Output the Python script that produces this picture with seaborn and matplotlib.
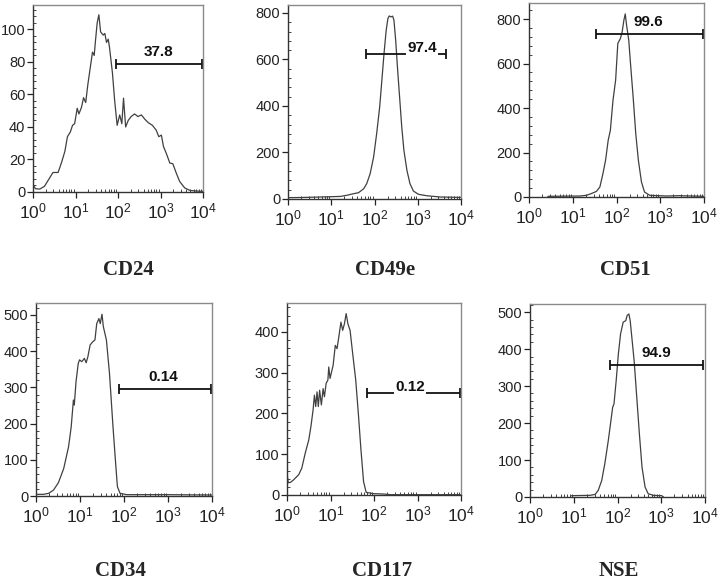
import numpy as np
import pandas as pd
import matplotlib
matplotlib.use("Agg")
import matplotlib.pyplot as plt
import matplotlib.ticker as mticker
import seaborn as sns

# ---------------- data (x in log10 fluorescence decades, y = cell counts) ----------------
markers = ["CD24", "CD49e", "CD51", "CD34", "CD117", "NSE"]

cd24_dec = [0.00, 0.06, 0.16, 0.27, 0.39, 0.47, 0.59, 0.67, 0.75, 0.81, 0.88, 0.93, 0.98, 1.04, 1.08,
            1.14, 1.19, 1.24, 1.29, 1.35, 1.40, 1.44, 1.47, 1.51, 1.55, 1.59, 1.65, 1.69, 1.73, 1.77,
            1.80, 1.87, 1.92, 1.98, 2.04, 2.09, 2.13, 2.18, 2.24, 2.31, 2.39, 2.47, 2.55, 2.63, 2.71,
            2.81, 2.90, 2.96, 3.02, 3.07, 3.14, 3.22, 3.29, 3.37, 3.45, 3.57, 3.69, 3.84, 4.00]
cd24_cnt = [4.5, 2.0, 1.8, 3.5, 8.6, 12, 12, 18, 25, 34, 37, 41, 42, 51.5, 48,
            52, 58, 55, 66, 77, 86, 84, 93, 104, 109, 98.5, 96.5, 97.5, 92, 94,
            89, 73, 56.6, 41, 47.4, 42, 57.7, 40, 44, 46.4, 48, 46.4, 47.4, 44.8, 42.7,
            41, 38, 34, 35, 28, 23.5, 17.8, 17.4, 11.7, 6.5, 2.5, 1.0, 0.6, 0.4]

cd49e_dec = [0.00, 0.44, 1.21, 1.36, 1.52, 1.63, 1.75, 1.82, 1.90, 1.98, 2.05, 2.12, 2.17, 2.22, 2.27,
             2.31, 2.34, 2.38, 2.42, 2.45, 2.49, 2.53, 2.58, 2.63, 2.68, 2.75, 2.82, 2.90, 3.02, 3.21,
             3.52, 4.00]
cd49e_cnt = [5.7, 7, 11, 16, 23, 27, 44, 66, 109, 181, 281, 396, 510, 625, 725,
             776, 787, 783, 786, 768, 682, 568, 439, 310, 209, 123, 66, 34, 20, 14,
             8.6, 7]

cd51_dec = [0.43, 1.16, 1.31, 1.42, 1.54, 1.62, 1.69, 1.75, 1.81, 1.86, 1.92, 1.98, 2.03, 2.09, 2.13,
            2.17, 2.20, 2.23, 2.28, 2.32, 2.38, 2.44, 2.50, 2.57, 2.64, 2.76, 3.14, 3.44, 4.00]
cd51_cnt = [3, 4.5, 7.5, 15, 25, 45, 105, 165, 255, 300, 435, 525, 690, 713, 743,
            796, 823, 773, 705, 600, 450, 285, 165, 68, 22.5, 7.5, 4.5, 6, 3]

cd34_dec = [0.00, 0.17, 0.29, 0.40, 0.51, 0.63, 0.74, 0.80, 0.85, 0.87, 0.91, 0.96, 0.99, 1.04, 1.10,
            1.14, 1.18, 1.23, 1.29, 1.34, 1.38, 1.43, 1.46, 1.50, 1.53, 1.60, 1.67, 1.75, 1.81, 1.85,
            1.91, 2.06, 2.97, 4.00]
cd34_cnt = [4.6, 4.6, 7.4, 16.6, 37, 76, 136, 191, 265, 251, 316, 366, 376, 371, 380,
            368, 385, 417, 426, 431, 476, 490, 476, 502, 468, 431, 339, 191, 90, 26,
            7.4, 3.7, 3.7, 2.8]

cd117_dec = [0.00, 0.01, 0.03, 0.08, 0.15, 0.27, 0.34, 0.42, 0.50, 0.55, 0.60, 0.63, 0.66, 0.69, 0.72,
             0.75, 0.79, 0.83, 0.86, 0.90, 0.94, 0.96, 0.99, 1.06, 1.11, 1.15, 1.19, 1.24, 1.28, 1.32,
             1.36, 1.40, 1.45, 1.51, 1.58, 1.64, 1.70, 1.76, 1.82, 1.99, 2.22, 2.37, 4.00]
cd117_cnt = [298, 45, 30, 31, 37, 50, 66, 103, 135, 168, 209, 245, 217, 253, 217,
             257, 221, 261, 241, 274, 282, 314, 286, 318, 367, 359, 387, 424, 404, 420,
             445, 420, 404, 347, 282, 200, 111, 33, 6.5, 3.3, 2.4, 0.8, 0.8]

nse_dec = [0.95, 1.37, 1.49, 1.56, 1.64, 1.71, 1.79, 1.84, 1.89, 1.92, 1.97, 2.02, 2.07, 2.13, 2.19,
           2.22, 2.26, 2.29, 2.32, 2.38, 2.44, 2.50, 2.56, 2.63, 2.70, 2.82, 3.01, 3.05]
nse_cnt = [3.6, 4.5, 7, 18, 45, 90, 153, 198, 243, 252, 315, 387, 441, 473, 477,
           491, 495, 477, 441, 369, 270, 171, 81, 27, 9, 4.5, 3.6, 0]

# gates: start, end (fluorescence), y level, percentage label
gate_start = [91, 62, 34.6, 79, 69, 67.6]
gate_end = [9500, 4450, 9600, 9330, 9500, 8900]
gate_level = [79, 622, 733, 296, 249, 358]
gate_pct = ["37.8", "97.4", "99.6", "0.14", "0.12", "94.9"]

y_max = [115, 834, 872, 533, 471, 522]
y_step = [20, 200, 200, 100, 100, 100]

decades = [cd24_dec, cd49e_dec, cd51_dec, cd34_dec, cd117_dec, nse_dec]
counts = [cd24_cnt, cd49e_cnt, cd51_cnt, cd34_cnt, cd117_cnt, nse_cnt]

# ---------------- layout (pixels) ----------------
W, H = 720, 582
boxes = [(33, 203, 5, 192), (288, 461, 5, 199), (529, 704, 3, 197),
         (36, 212, 303, 496), (287, 461, 303, 495), (530, 705, 304, 497)]
title_xy = [(128, 270), (385, 270), (625, 270), (120, 571), (382, 571), (619, 571)]
# label placement: text above bar (False) or breaking the bar (True)
inline = [False, True, False, False, True, False]
label_dec = [2.96, 3.10, 2.73, 2.90, 2.83, 2.90]

sns.set_style("ticks")
plt.rcParams["font.family"] = ["Liberation Sans", "DejaVu Sans"]
plt.rcParams["mathtext.fontset"] = "custom"
plt.rcParams["mathtext.rm"] = "Liberation Sans"
plt.rcParams["mathtext.it"] = "Liberation Sans:italic"
plt.rcParams["mathtext.bf"] = "Liberation Sans:bold"

fig = plt.figure(figsize=(W / 100, H / 100), dpi=100)
fig.patch.set_facecolor("white")

for i, name in enumerate(markers):
    l, r, t, b = boxes[i]
    ax = fig.add_axes([l / W, 1 - b / H, (r - l) / W, (b - t) / H])
    df = pd.DataFrame({"fl": np.power(10.0, decades[i]), "count": counts[i]})
    sns.lineplot(data=df, x="fl", y="count", ax=ax, color="#404040", lw=0.9,
                 sort=False, estimator=None)
    ax.set_xscale("log")
    ax.set_xlim(1, 1e4)
    ax.set_ylim(0, y_max[i])
    ax.set_xlabel("")
    ax.set_ylabel("")
    ax.set_facecolor("white")

    ax.xaxis.set_major_locator(mticker.LogLocator(base=10, numticks=10))
    ax.xaxis.set_minor_locator(mticker.LogLocator(base=10, subs=np.arange(2, 10), numticks=20))
    ax.xaxis.set_major_formatter(mticker.LogFormatterSciNotation())
    ax.xaxis.set_minor_formatter(mticker.NullFormatter())
    ax.yaxis.set_major_locator(mticker.MultipleLocator(y_step[i]))
    ax.yaxis.set_minor_locator(mticker.AutoMinorLocator(5))

    ax.tick_params(axis="both", which="major", direction="out", length=4, width=0.9,
                   colors="#222222", pad=2)
    ax.tick_params(axis="y", which="major", labelsize=10.5, pad=1.5)
    ax.tick_params(axis="x", which="major", labelsize=12.5, pad=3)
    ax.tick_params(axis="both", which="minor", direction="in", length=2.5, width=0.7,
                   colors="#444444")
    for side in ["left", "bottom"]:
        ax.spines[side].set_color("#333333")
        ax.spines[side].set_linewidth(1.0)
    for side in ["top", "right"]:
        ax.spines[side].set_visible(True)
        ax.spines[side].set_color("#8a8a8a")
        ax.spines[side].set_linewidth(1.0)

    # gate bar
    gx = [gate_start[i], gate_end[i]]
    gy = [gate_level[i], gate_level[i]]
    ax.plot(gx, gy, color="#111111", lw=1.3, solid_capstyle="butt")
    ax.plot(gx, gy, ls="none", marker="|", ms=7, mew=1.3, color="#111111")
    lx = 10 ** label_dec[i]
    if inline[i]:
        ax.text(lx, gate_level[i] + 0.035 * y_max[i], gate_pct[i], ha="center", va="center",
                fontsize=11, fontweight="bold", color="#111111",
                bbox=dict(facecolor="white", edgecolor="none", pad=1.0))
    else:
        ax.text(lx, gate_level[i] + 0.025 * y_max[i], gate_pct[i], ha="center", va="bottom",
                fontsize=11, fontweight="bold", color="#111111")

    tx, ty = title_xy[i]
    fig.text(tx / W, 1 - ty / H, name, ha="center", va="center",
             fontsize=15, fontweight="bold", family=["Liberation Serif", "DejaVu Serif"])

fig.savefig("out.png", dpi=100, facecolor="white")
